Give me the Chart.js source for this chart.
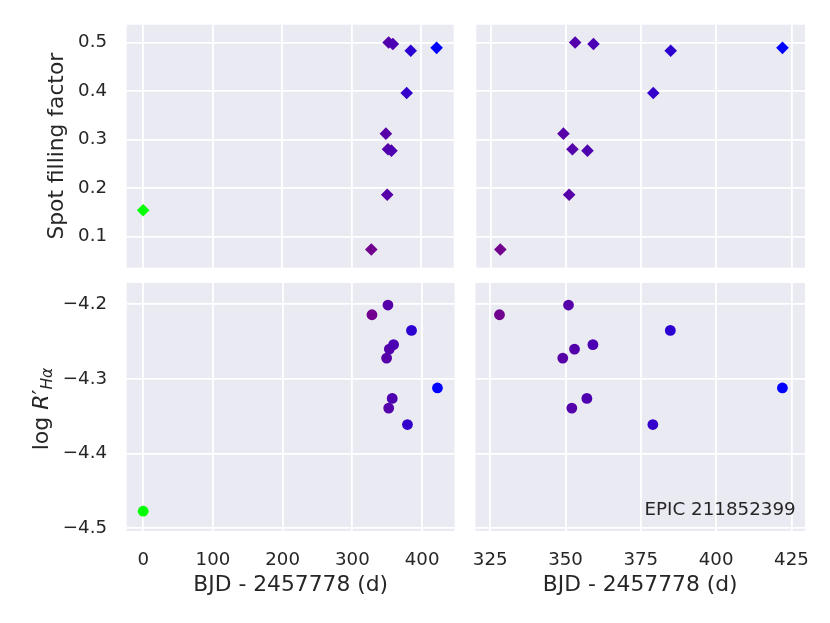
<!DOCTYPE html>
<html>
<head>
<meta charset="utf-8">
<script src="https://cdn.jsdelivr.net/npm/chart.js@4.4.0/dist/chart.umd.min.js"></script>
<style>
html, body { margin: 0; padding: 0; background: #fff; }
#wrap { position: relative; width: 830px; height: 623px; overflow: hidden; }
.panel { position: absolute; }
</style>
</head>
<body>
<div id="wrap">
  <div class="panel" style="left:0px;top:0px;width:460px;height:274px"><canvas id="c-tl"></canvas></div>
  <div class="panel" style="left:470px;top:0px;width:360px;height:274px"><canvas id="c-tr"></canvas></div>
  <div class="panel" style="left:0px;top:277px;width:460px;height:346px"><canvas id="c-bl"></canvas></div>
  <div class="panel" style="left:470px;top:277px;width:360px;height:346px"><canvas id="c-br"></canvas></div>
</div>
<script>
// Datos
const bjd = [0, 328.1, 349.1, 351.0, 352.1, 353.0, 357.1, 359.1, 379.0, 384.8, 422.0];
const spotFactor = [0.154, 0.073, 0.312, 0.186, 0.280, 0.500, 0.277, 0.497, 0.396, 0.483, 0.489];
const logRHa = [-4.477, -4.214, -4.272, -4.201, -4.339, -4.260, -4.326, -4.254, -4.361, -4.235, -4.312];

// Marcas de los ejes
const xTicksFull = [0, 100, 200, 300, 400];
const xTicksZoom = [325, 350, 375, 400, 425];
const spotTicks = [0.1, 0.2, 0.3, 0.4, 0.5];
const logTicks = [-4.5, -4.4, -4.3, -4.2];

const xLabel = 'BJD - 2457778 (d)';
const spotLabel = 'Spot filling factor';
const objectName = 'EPIC 211852399';

const colorTexto = '#262626';
const colorFondo = '#EAEAF2';
Chart.defaults.font.family = '"DejaVu Sans", sans-serif';
Chart.defaults.color = colorTexto;

// mapa de color brg invertido segun la fecha
const cMin = Math.min(...bjd);
const cMax = Math.max(...bjd);
function brgR(v) {
    const t = 1 - (v - cMin) / (cMax - cMin);
    let r, g, b;
    if (t <= 0.5) { r = 2 * t; g = 0; b = 1 - 2 * t; }
    else { r = 2 - 2 * t; g = 2 * t - 1; b = 0; }
    return `rgb(${Math.round(r * 255)},${Math.round(g * 255)},${Math.round(b * 255)})`;
}
const colores = bjd.map(brgR);

// Fondo gris del panel
const fondoPanel = {
    id: 'fondoPanel',
    beforeDraw(chart) {
        const a = chart.chartArea;
        chart.ctx.save();
        chart.ctx.fillStyle = colorFondo;
        chart.ctx.fillRect(a.left, a.top, a.right - a.left, a.bottom - a.top);
        chart.ctx.restore();
    }
};

// Etiqueta log R'_Halpha (con subindice)
const etiquetaLogR = {
    id: 'etiquetaLogR',
    afterDraw(chart) {
        const ctx = chart.ctx;
        const piezas = [
            { t: 'log ', f: '22px "DejaVu Sans"', dy: 0 },
            { t: 'R', f: 'italic 22px "DejaVu Sans"', dy: 0 },
            { t: '\u2032', f: '22px "DejaVu Sans"', dy: 0 },
            { t: 'H\u03b1', f: 'italic 15.5px "DejaVu Sans"', dy: 3.5 }
        ];
        ctx.save();
        let total = 0;
        piezas.forEach(p => { ctx.font = p.f; p.w = ctx.measureText(p.t).width; total += p.w; });
        ctx.translate(48, 132);
        ctx.rotate(-Math.PI / 2);
        ctx.fillStyle = colorTexto;
        ctx.textBaseline = 'alphabetic';
        ctx.textAlign = 'left';
        let x = -total / 2;
        piezas.forEach(p => { ctx.font = p.f; ctx.fillText(p.t, x, p.dy); x += p.w; });
        ctx.restore();
    }
};

// Nombre del objeto
const etiquetaObjeto = {
    id: 'etiquetaObjeto',
    afterDraw(chart) {
        const ctx = chart.ctx;
        ctx.save();
        ctx.font = '18.3px "DejaVu Sans"';
        ctx.fillStyle = colorTexto;
        ctx.textAlign = 'right';
        ctx.textBaseline = 'alphabetic';
        ctx.fillText(objectName, 325.7, 238);
        ctx.restore();
    }
};

function formatoY(v) {
    return v.toFixed(1).replace('-', '\u2212');
}

// quitar el relleno automatico que Chart.js reserva para las etiquetas
function sinRelleno(s) {
    s.paddingTop = 0;
    s.paddingBottom = 0;
    s.paddingLeft = 0;
    s.paddingRight = 0;
}

function crearPanel(id, cfg) {
    return new Chart(document.getElementById(id), {
        type: 'scatter',
        data: {
            datasets: [{
                data: bjd.map((x, i) => ({ x: x, y: cfg.valores[i] })),
                pointStyle: cfg.marker,
                pointRadius: cfg.radio,
                pointHoverRadius: cfg.radio,
                pointBackgroundColor: colores,
                pointBorderWidth: 0,
                borderWidth: 0
            }]
        },
        options: {
            responsive: true,
            maintainAspectRatio: false,
            animation: false,
            layout: { padding: cfg.padding },
            plugins: { legend: { display: false }, tooltip: { enabled: false } },
            scales: {
                x: {
                    type: 'linear',
                    min: cfg.xMin,
                    max: cfg.xMax,
                    afterBuildTicks: s => { s.ticks = cfg.xTicks.map(v => ({ value: v })); },
                    afterFit: s => { s.height = cfg.altoX; sinRelleno(s); },
                    grid: { color: '#ffffff', lineWidth: 1.8, drawTicks: false },
                    border: { display: false },
                    ticks: { display: cfg.xEtiquetas, padding: 18.8, color: colorTexto, font: { size: 18.2 } },
                    title: {
                        display: cfg.xEtiquetas,
                        text: xLabel,
                        color: colorTexto,
                        font: { size: 21.8 },
                        padding: { top: 0, bottom: 24.2 }
                    }
                },
                y: {
                    type: 'linear',
                    min: cfg.yMin,
                    max: cfg.yMax,
                    afterBuildTicks: s => { s.ticks = cfg.yTicks.map(v => ({ value: v })); },
                    afterFit: s => { s.width = cfg.anchoY; sinRelleno(s); },
                    grid: { color: '#ffffff', lineWidth: 1.8, drawTicks: false },
                    border: { display: false },
                    ticks: { display: cfg.yEtiquetas, padding: 19.7, color: colorTexto, font: { size: 18.2 }, callback: formatoY },
                    title: {
                        display: !!cfg.yTitulo,
                        text: cfg.yTitulo || '',
                        color: colorTexto,
                        font: { size: 21.8 },
                        padding: { top: 44, bottom: 0 }
                    }
                }
            }
        },
        plugins: [fondoPanel].concat(cfg.extra || [])
    });
}

// Panel superior izquierdo
crearPanel('c-tl', {
    valores: spotFactor, marker: 'rectRot', radio: 6.3,
    xMin: -23.65, xMax: 446.6, xTicks: xTicksFull, xEtiquetas: false, altoX: 0,
    yMin: 0.0356, yMax: 0.5367, yTicks: spotTicks, yEtiquetas: true, anchoY: 126.7, yTitulo: spotLabel,
    padding: { top: 24.7, right: 3.3, bottom: 3.3, left: 0 }
});

// Panel superior derecho
crearPanel('c-tr', {
    valores: spotFactor, marker: 'rectRot', radio: 6.3,
    xMin: 320.1, xMax: 429.5, xTicks: xTicksZoom, xEtiquetas: false, altoX: 0,
    yMin: 0.0356, yMax: 0.5367, yTicks: spotTicks, yEtiquetas: false, anchoY: 0,
    padding: { top: 24.7, right: 25, bottom: 3.3, left: 5.3 }
});

// Panel inferior izquierdo
crearPanel('c-bl', {
    valores: logRHa, marker: 'circle', radio: 5.4,
    xMin: -23.65, xMax: 446.6, xTicks: xTicksFull, xEtiquetas: true, altoX: 92,
    yMin: -4.5035, yMax: -4.1715, yTicks: logTicks, yEtiquetas: true, anchoY: 126.7,
    padding: { top: 6, right: 3.3, bottom: 0, left: 0 },
    extra: [etiquetaLogR]
});

// Panel inferior derecho
crearPanel('c-br', {
    valores: logRHa, marker: 'circle', radio: 5.4,
    xMin: 320.1, xMax: 429.5, xTicks: xTicksZoom, xEtiquetas: true, altoX: 92,
    yMin: -4.5035, yMax: -4.1715, yTicks: logTicks, yEtiquetas: false, anchoY: 0,
    padding: { top: 6, right: 25, bottom: 0, left: 5.3 },
    extra: [etiquetaObjeto]
});
</script>
</body>
</html>
